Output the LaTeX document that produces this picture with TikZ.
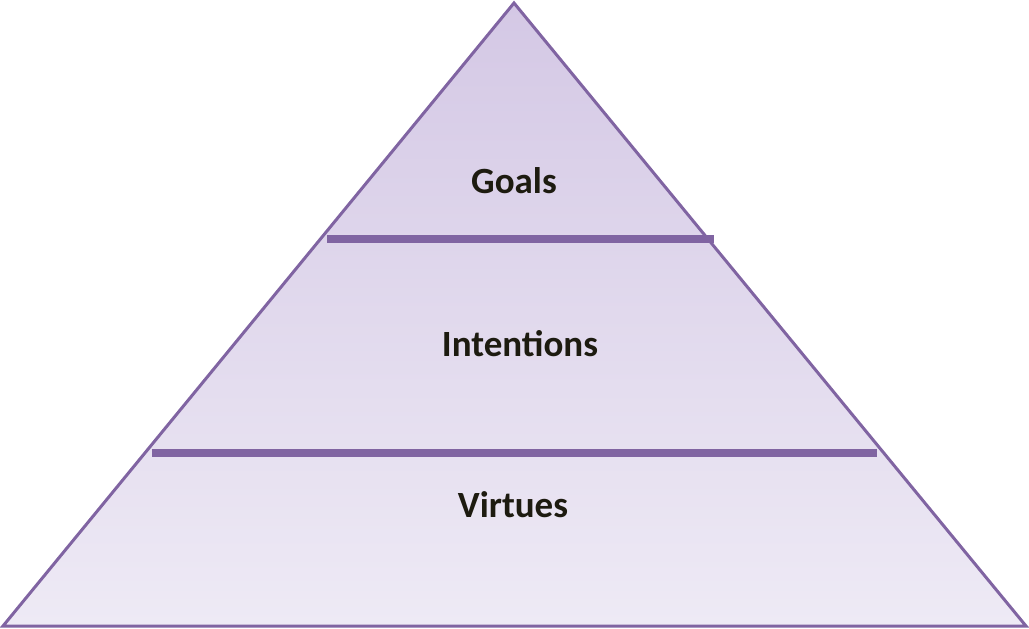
\documentclass[tikz,border=0pt]{standalone}
\usepackage{fontspec}
\setmainfont{Carlito}
\definecolor{pstroke}{HTML}{8064A2}
\definecolor{ptop}{HTML}{D4C8E5}
\definecolor{pbot}{HTML}{EEEAF5}
\definecolor{ptext}{HTML}{1D1B10}
\begin{document}
\begin{tikzpicture}[x=1pt,y=-1pt,
  layer/.style={font=\bfseries\fontsize{37}{40}\selectfont, text=ptext, anchor=base, inner sep=0pt},
  bar/.style={draw=pstroke, line width=8pt}]
\useasboundingbox (0,0) rectangle (1029,629);
\coordinate (apex) at (514,3);
\coordinate (bl) at (3,626);
\coordinate (br) at (1026,626);
\begin{scope}
  \clip (apex) -- (bl) -- (br) -- cycle;
  \shade[top color=ptop, bottom color=pbot] (0,3) rectangle (1029,626);
\end{scope}
\draw[pstroke, line width=3pt, line join=miter] (apex) -- (bl) -- (br) -- cycle;
\coordinate (b1l) at (327,239);
\coordinate (b1r) at (714,239);
\coordinate (b2l) at (152,452.5);
\coordinate (b2r) at (877,452.5);
\draw[bar] (b1l) -- (b1r);
\draw[bar] (b2l) -- (b2r);
\node[layer] (goals) at (514,193) {Goals};
\node[layer] (intentions) at (520,356) {Intentions};
\node[layer] (virtues) at (513,517) {Virtues};
\end{tikzpicture}
\end{document}
